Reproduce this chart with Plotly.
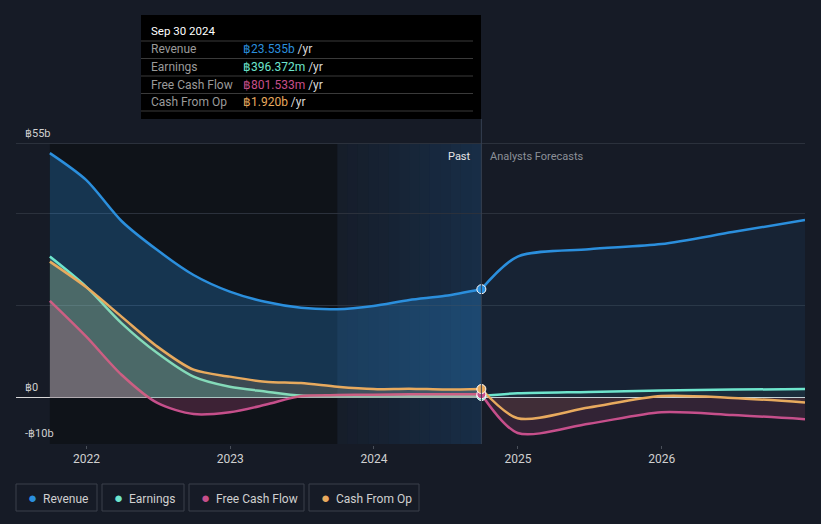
import pandas as pd
import plotly.graph_objects as go

# values in THB billions
past_dates = ['2021-09-30', '2021-12-31', '2022-03-31', '2022-06-30', '2022-09-30',
              '2022-12-31', '2023-03-31', '2023-06-30', '2023-09-30', '2023-12-31',
              '2024-03-31', '2024-06-30', '2024-09-30']
revenue_past = [53.0, 47.2, 38.3, 32.0, 26.6, 23.0, 20.8, 19.5, 19.2, 19.9, 21.2, 22.1, 23.535]
earnings_past = [30.6, 24.1, 16.2, 9.7, 4.6, 2.4, 1.4, 0.5, 0.3, 0.3, 0.35, 0.35, 0.396372]
fcf_past = [21.0, 13.3, 5.0, -1.1, -3.5, -3.1, -1.5, 0.4, 0.6, 0.7, 0.8, 0.8, 0.801533]
cfo_past = [29.5, 24.0, 17.6, 11.1, 6.1, 4.6, 3.5, 3.2, 2.4, 1.9, 2.0, 1.8, 1.920]

fc_dates = ['2024-09-30', '2024-12-31', '2025-06-30', '2025-12-31', '2026-06-30', '2026-12-31']
revenue_fc = [23.535, 30.6, 32.2, 33.3, 35.9, 38.5]
earnings_fc = [0.396372, 1.0, 1.3, 1.6, 1.8, 1.9]
fcf_fc = [0.801533, -7.6, -5.6, -3.1, -3.7, -4.6]
cfo_fc = [1.920, -4.4, -2.1, 0.4, 0.0, -1.0]

names = ['Revenue', 'Earnings', 'Free Cash Flow', 'Cash From Op']
colors = ['#2b8fdd', '#6ee5cd', '#c64f8b', '#e8aa5e']
fill_past = ['rgba(43,143,221,0.28)', 'rgba(110,229,205,0.22)', 'rgba(198,79,139,0.25)', 'rgba(232,170,94,0.18)']
fill_fc = ['rgba(43,143,221,0.08)', 'rgba(110,229,205,0.06)', 'rgba(198,79,139,0.16)', 'rgba(232,170,94,0.08)']

y_ticks = [-10, 0, 20, 40, 55]
y_labels = ['-฿10b', '฿0', '', '', '฿55b']

BG = '#161b26'
W, H = 821, 524
L, R, T, B = 16, 16, 139, 79


def px_x(px):
    return (px - L) / (W - L - R)


def px_y(py):
    return (H - B - py) / (H - T - B)


def money(v):
    if abs(v) < 1:
        return f'฿{v * 1000:.3f}m'
    return f'฿{v:.3f}b'


fig = go.Figure()

series = [
    (revenue_past, revenue_fc),
    (earnings_past, earnings_fc),
    (fcf_past, fcf_fc),
    (cfo_past, cfo_fc),
]
for i, (p, f) in enumerate(series):
    fig.add_trace(go.Scatter(x=past_dates, y=p, mode='lines', line=dict(color=colors[i], width=2.5, shape='spline', smoothing=0.8),
                             fill='tozeroy', fillcolor=fill_past[i], hoverinfo='skip', showlegend=False))
    fig.add_trace(go.Scatter(x=fc_dates, y=f, mode='lines', line=dict(color=colors[i], width=2.5, shape='spline', smoothing=0.8),
                             fill='tozeroy', fillcolor=fill_fc[i], hoverinfo='skip', showlegend=False))

# end-of-past markers
for i, (p, f) in enumerate(series):
    fig.add_trace(go.Scatter(x=[past_dates[-1]], y=[p[-1]], mode='markers',
                             marker=dict(color=colors[i], size=9, line=dict(color='white', width=1)),
                             hoverinfo='skip', showlegend=False))

# background regions: dark past, then a blue gradient for the last year
fig.add_shape(type='rect', xref='x', yref='y', x0=past_dates[0], x1=past_dates[8], y0=-10, y1=55,
              fillcolor='#0f1319', line_width=0, layer='below')
strips = pd.date_range(past_dates[8], past_dates[-1], periods=15)
for k in range(len(strips) - 1):
    a = 0.03 + 0.17 * k / (len(strips) - 2)
    fig.add_shape(type='rect', xref='x', yref='y', x0=strips[k], x1=strips[k + 1], y0=-10, y1=55,
                  fillcolor=f'rgba(33,120,200,{a:.3f})', line_width=0, layer='below')
fig.add_shape(type='line', xref='x', yref='paper', x0=past_dates[-1], x1=past_dates[-1], y0=px_y(444), y1=px_y(119),
              line=dict(color='#354052', width=1))

fig.add_annotation(x=past_dates[-1], y=px_y(156), xref='x', yref='paper', text='Past', showarrow=False,
                   xanchor='right', yanchor='middle', xshift=-8, font=dict(color='#e6e6e6', size=11))
fig.add_annotation(x=past_dates[-1], y=px_y(156), xref='x', yref='paper', text='Analysts Forecasts', showarrow=False,
                   xanchor='left', yanchor='middle', xshift=7, font=dict(color='#8c9098', size=11))

# y labels sit above their gridlines
for v, t in zip(y_ticks, y_labels):
    if t:
        fig.add_annotation(x=px_x(23), y=v, xref='paper', yref='y', text=t, showarrow=False,
                           xanchor='left', yanchor='bottom', yshift=2, font=dict(color='#d0d0d0', size=11))

# tooltip box
fig.add_shape(type='rect', xref='paper', yref='paper', x0=px_x(141), x1=px_x(481), y0=px_y(119), y1=px_y(15),
              fillcolor='#000000', line_width=0)
for py in [41, 58.5, 76, 93.5, 111]:
    fig.add_shape(type='line', xref='paper', yref='paper', x0=px_x(141), x1=px_x(473), y0=px_y(py), y1=px_y(py),
                  line=dict(color='#3a3a3a', width=1))
fig.add_annotation(x=px_x(149), y=px_y(31), xref='paper', yref='paper', text='Sep 30 2024', showarrow=False,
                   xanchor='left', yanchor='middle', font=dict(color='#ffffff', size=11.5))
last_vals = [revenue_past[-1], earnings_past[-1], fcf_past[-1], cfo_past[-1]]
for i, py in enumerate([49.5, 67, 84.5, 102]):
    fig.add_annotation(x=px_x(149), y=px_y(py), xref='paper', yref='paper', text=names[i], showarrow=False,
                       xanchor='left', yanchor='middle', font=dict(color='#9a9a9a', size=12))
    fig.add_annotation(x=px_x(241), y=px_y(py), xref='paper', yref='paper',
                       text=f"<span style='color:{colors[i]}'>{money(last_vals[i])}</span> /yr", showarrow=False,
                       xanchor='left', yanchor='middle', font=dict(color='#d8d8d8', size=12))

# legend boxes
legend_boxes = [(16, 97), (102, 184), (189, 304), (309, 419)]
for i, (a, b) in enumerate(legend_boxes):
    fig.add_shape(type='rect', xref='paper', yref='paper', x0=px_x(a), x1=px_x(b), y0=px_y(511), y1=px_y(484),
                  line=dict(color='#3a404b', width=1), fillcolor='rgba(0,0,0,0)')
    fig.add_annotation(x=px_x(a + 10), y=px_y(497.5), xref='paper', yref='paper',
                       text=f"<span style='color:{colors[i]};font-size:15px'>●</span>  {names[i]}", showarrow=False,
                       xanchor='left', yanchor='middle', font=dict(color='#d0d0d0', size=12))

fig.update_layout(
    width=W, height=H,
    margin=dict(l=L, r=R, t=T, b=B),
    paper_bgcolor=BG, plot_bgcolor=BG,
    font=dict(family='Roboto, sans-serif', color='#d0d0d0', size=11),
    showlegend=False,
)
fig.update_xaxes(type='date', range=['2021-07-06', '2026-12-31'], showgrid=False,
                 tickvals=['2022-01-01', '2023-01-01', '2024-01-01', '2025-01-01', '2026-01-01'],
                 ticktext=['2022', '2023', '2024', '2025', '2026'],
                 ticks='outside', ticklen=3, tickcolor='#4a505a', showline=False,
                 tickfont=dict(color='#d0d0d0', size=12), zeroline=False)
fig.update_yaxes(range=[-10.2, 56.05], tickvals=y_ticks, ticktext=y_labels, showticklabels=False,
                 gridcolor='#2b313c', gridwidth=1, zeroline=True, zerolinecolor='#d8d8d8', zerolinewidth=1,
                 showline=False)

fig.write_html('out.html', config={'displayModeBar': False}, post_script="document.body.style.margin='0';")
